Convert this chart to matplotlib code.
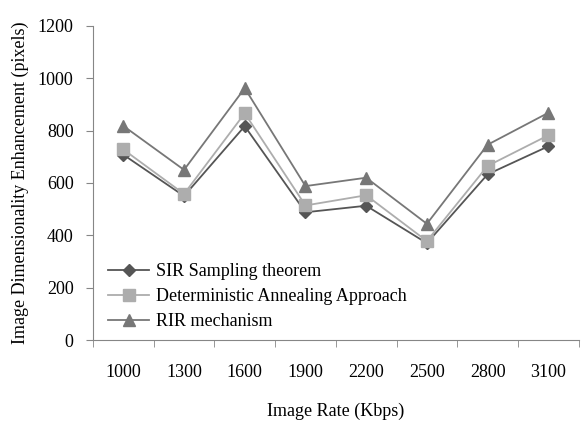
import matplotlib
matplotlib.use("Agg")
import matplotlib.pyplot as plt
import numpy as np

categories = ["1000", "1300", "1600", "1900", "2200", "2500", "2800", "3100"]
sir = [708, 550, 817, 488, 513, 370, 633, 740]
daa = [728, 558, 866, 514, 553, 378, 665, 782]
rir = [818, 650, 962, 588, 620, 444, 746, 868]

plt.rcParams['font.family'] = ['Liberation Serif', 'DejaVu Serif']
fig = plt.figure(figsize=(5.81, 4.24), dpi=100)
ax = fig.add_axes([0.160, 0.198, 0.836, 0.741])
x = np.arange(len(categories))
ax.plot(x, sir, color='#555555', marker='D', markersize=6, linewidth=1.3, label='SIR Sampling theorem')
ax.plot(x, daa, color='#ADADAD', marker='s', markersize=8, linewidth=1.3, label='Deterministic Annealing Approach')
ax.plot(x, rir, color='#777777', marker='^', markersize=8.5, linewidth=1.3, label='RIR mechanism')

ax.set_xlim(-0.5, len(categories) - 0.5)
ax.set_ylim(0, 1200)
ax.set_yticks(np.arange(0, 1201, 200))
ax.set_xticks(x)
ax.set_xticklabels(categories)
ax.set_xticks(np.arange(-0.5, len(categories), 1.0), minor=True)
ax.tick_params(axis='x', which='major', length=0, pad=17, labelsize=13)
ax.tick_params(axis='x', which='minor', length=5, color='#868686', direction='out')
ax.tick_params(axis='y', length=5, color='#868686', labelsize=13, pad=9)
for s in ['top', 'right']:
    ax.spines[s].set_visible(False)
for s in ['left', 'bottom']:
    ax.spines[s].set_color('#868686')
ax.set_xlabel('Image Rate (Kbps)', fontsize=13, labelpad=16)
ax.set_ylabel('Image Dimensionality Enhancement (pixels)', fontsize=13, labelpad=6)
ax.legend(loc='lower left', frameon=False, fontsize=13, handlelength=2.3,
          handletextpad=0.4, labelspacing=0.45, borderaxespad=0.15, bbox_to_anchor=(0.01, 0.0))
fig.savefig('out.png', dpi=100)
